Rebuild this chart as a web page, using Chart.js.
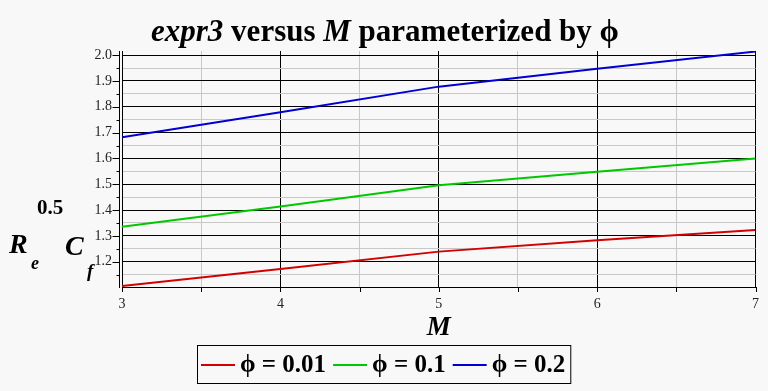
<!DOCTYPE html>
<html><head><meta charset="utf-8">
<script src="https://cdn.jsdelivr.net/npm/chart.js@4/dist/chart.umd.min.js"></script>
<style>html,body{margin:0;padding:0;background:#f8f8f8;overflow:hidden}</style>
</head><body>
<canvas id="c" width="768" height="391"></canvas>
<script>
// ---- data ----
const mValues = [3, 4, 5, 6, 7];
const seriesLabels = ['\u03D5 = 0.01', '\u03D5 = 0.1', '\u03D5 = 0.2'];
const phi001 = [1.106, 1.172, 1.239, 1.283, 1.323];
const phi01  = [1.335, 1.414, 1.496, 1.548, 1.600];
const phi02  = [1.682, 1.779, 1.878, 1.947, 2.014];
const xTickValues = [3, 3.5, 4, 4.5, 5, 5.5, 6, 6.5, 7];
const yTickValues = [1.15, 1.2, 1.25, 1.3, 1.35, 1.4, 1.45, 1.5, 1.55, 1.6, 1.65, 1.7, 1.75, 1.8, 1.85, 1.9, 1.95, 2.0];
const titleParts = [['expr3', 'italic bold'], [' versus ', 'bold'], ['M', 'italic bold'], [' parameterized by \u03D5', 'bold']];
const xTitle = 'M';

const SERIF = '"Liberation Serif", "Times New Roman", "DejaVu Serif", serif';
const colors = ['#d20000', '#00c800', '#0000d2'];
const isMajorX = v => Math.abs(v - Math.round(v)) < 1e-6;
const isMajorY = v => Math.abs(v * 10 - Math.round(v * 10)) < 1e-6;

const toPts = arr => arr.map((y, i) => ({x: mValues[i], y}));

const decor = {
  id: 'decor',
  beforeDraw(chart) {
    const ctx = chart.ctx;
    ctx.save();
    ctx.fillStyle = '#f8f8f8';
    ctx.fillRect(0, 0, chart.width, chart.height);
    ctx.restore();
  },
  afterDraw(chart) {
    const ctx = chart.ctx;
    const a = chart.chartArea;
    const xs = chart.scales.x, ys = chart.scales.y;
    ctx.save();
    ctx.strokeStyle = '#000';
    ctx.lineWidth = 1;
    // extra left axis line
    const axX = Math.round(a.left) - 2.5;
    ctx.beginPath(); ctx.moveTo(axX, a.top); ctx.lineTo(axX, a.bottom + 1); ctx.stroke();
    // y tick marks
    yTickValues.forEach(v => {
      const y = Math.round(ys.getPixelForValue(v)) + 0.5;
      const len = isMajorY(v) ? 7 : 3;
      ctx.beginPath(); ctx.moveTo(axX, y); ctx.lineTo(axX - len, y); ctx.stroke();
    });
    // x tick marks
    xTickValues.forEach(v => {
      const x = Math.round(xs.getPixelForValue(v)) + 0.5;
      ctx.beginPath(); ctx.moveTo(x, a.bottom); ctx.lineTo(x, a.bottom + 5); ctx.stroke();
    });
    // title
    ctx.fillStyle = '#000';
    ctx.textBaseline = 'alphabetic';
    const tsize = 31;
    let total = 0;
    titleParts.forEach(([t, f]) => { ctx.font = f + ' ' + tsize + 'px ' + SERIF; total += ctx.measureText(t).width; });
    let tx = 385 - total / 2;
    titleParts.forEach(([t, f]) => { ctx.font = f + ' ' + tsize + 'px ' + SERIF; ctx.fillText(t, tx, 41); tx += ctx.measureText(t).width; });
    // x axis title
    ctx.font = 'italic bold 27px ' + SERIF;
    ctx.textAlign = 'center';
    ctx.fillText(xTitle, (a.left + a.right) / 2, 335);
    // y axis title R_e^0.5 C_f
    ctx.textAlign = 'left';
    ctx.font = 'italic bold 28px ' + SERIF; ctx.fillText('R', 9, 253);
    ctx.font = 'italic bold 18px ' + SERIF; ctx.fillText('e', 31, 269);
    ctx.font = 'bold 21px ' + SERIF; ctx.fillText('0.5', 37, 214);
    ctx.font = 'italic bold 28px ' + SERIF; ctx.fillText('C', 65, 255);
    ctx.font = 'italic bold 19px ' + SERIF; ctx.fillText('f', 87, 277);
    // legend
    const ds = chart.data.datasets;
    ctx.font = 'bold 25px ' + SERIF;
    const lineW = 34, gap1 = 5, gap2 = 7, padL = 4, padR = 5;
    let w = padL + padR;
    ds.forEach((d, i) => { w += lineW + gap1 + ctx.measureText(d.label).width + (i < ds.length - 1 ? gap2 : 0); });
    const bx = Math.round(384 - w / 2), by = 345, bh = 38;
    ctx.strokeStyle = '#000';
    ctx.strokeRect(bx + 0.5, by + 0.5, w, bh);
    let lx = bx + padL;
    const ly = by + bh / 2 + 1;
    ds.forEach((d, i) => {
      ctx.strokeStyle = d.borderColor; ctx.lineWidth = 2;
      ctx.beginPath(); ctx.moveTo(lx, ly); ctx.lineTo(lx + lineW, ly); ctx.stroke();
      lx += lineW + gap1;
      ctx.fillStyle = '#000'; ctx.textBaseline = 'middle';
      ctx.fillText(d.label, lx, ly + 1);
      lx += ctx.measureText(d.label).width + gap2;
    });
    ctx.restore();
  }
};

new Chart(document.getElementById('c'), {
  type: 'line',
  data: {
    datasets: [
      {label: seriesLabels[0], data: toPts(phi001), borderColor: colors[0]},
      {label: seriesLabels[1], data: toPts(phi01), borderColor: colors[1]},
      {label: seriesLabels[2], data: toPts(phi02), borderColor: colors[2]}
    ]
  },
  options: {
    responsive: false,
    animation: false,
    devicePixelRatio: 1,
    layout: {padding: {top: 51, right: 8, left: 0, bottom: 0}},
    elements: {point: {radius: 0}, line: {borderWidth: 2, tension: 0, fill: false}},
    plugins: {legend: {display: false}, title: {display: false}, tooltip: {enabled: false}},
    scales: {
      x: {
        type: 'linear', min: 3, max: 7,
        afterBuildTicks: s => { s.ticks = xTickValues.map(v => ({value: v})); },
        afterFit: s => { s.height = 104; },
        grid: {color: c => (c.tick && isMajorX(c.tick.value)) ? '#000' : '#c8c8c8', drawTicks: false, lineWidth: 1},
        border: {display: true, color: '#000', width: 1},
        ticks: {callback: v => isMajorX(v) ? String(v) : '', padding: 9, autoSkip: false, maxRotation: 0,
                color: '#222', font: {family: SERIF, size: 14}}
      },
      y: {
        type: 'linear', min: 1.102, max: 2.016,
        afterBuildTicks: s => { s.ticks = yTickValues.map(v => ({value: v})); },
        afterFit: s => { s.width = 122; },
        grid: {color: c => (c.tick && isMajorY(c.tick.value)) ? '#000' : '#c8c8c8', drawTicks: false, lineWidth: 1},
        border: {display: true, color: '#000', width: 1},
        ticks: {callback: v => isMajorY(v) ? v.toFixed(1) : '', padding: 10, autoSkip: false,
                color: '#222', font: {family: SERIF, size: 14}}
      }
    }
  },
  plugins: [decor]
});
</script>
</body></html>
